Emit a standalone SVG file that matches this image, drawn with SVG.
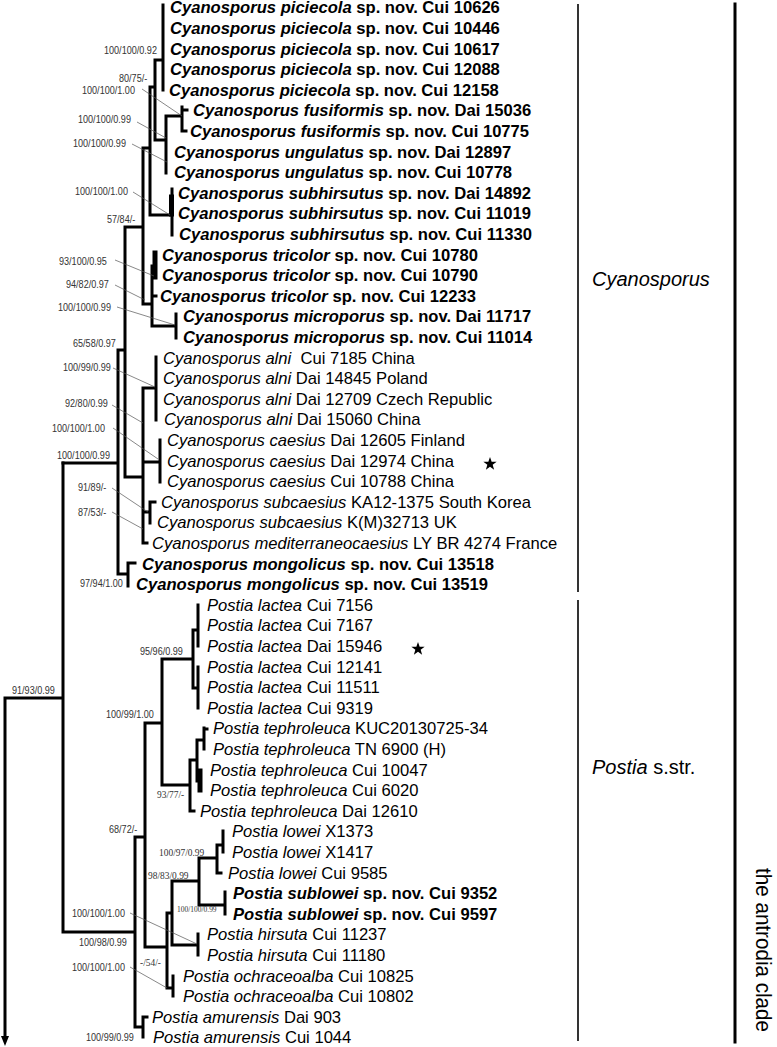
<svg xmlns="http://www.w3.org/2000/svg" xmlns:xlink="http://www.w3.org/1999/xlink" width="777" height="1047" viewBox="0 0 777 1047">
<style>
.br{fill:none;stroke:#000;stroke-width:3;stroke-linecap:square}
.ld{fill:none;stroke:#555;stroke-width:0.7}
.br2{fill:none;stroke:#000;stroke-width:1.6}
.t{font-family:"Liberation Sans",Arial,sans-serif;font-size:16.6px;fill:#000}
.b{font-weight:bold}
.i{font-style:italic}
.s{font-family:"Liberation Sans",Arial,sans-serif;font-size:10.2px;fill:#333}
.sr{font-family:"Liberation Serif","Times New Roman",serif;font-size:10.6px;fill:#333}
.g{font-family:"Liberation Sans",Arial,sans-serif;font-size:20px;fill:#000}
</style>
<defs>
<polygon id="star" points="0,-7 1.65,-2.27 6.66,-2.16 2.66,0.87 4.11,5.66 0,2.8 -4.11,5.66 -2.66,0.87 -6.66,-2.16 -1.65,-2.27" fill="#000"/>
</defs>
<rect width="777" height="1047" fill="#fff"/>
<g id="connectors">
<path class="br" d="M163 5V90M155 60H163M155 60V140M150 87H155M155 140H166M166 116V173M166 116H182M182 107V131M182 110H187M182 131H186M150 87V215M144 148H150M150 215H172M172 189V235M143 148V304M125 227H143M152 266V326M152 266H155M152 296H156M143 304H152M152 326H176M176 314V338M125 227V477M118 350H125M118 350V574M63 463H118M156 357V420M143 388H156M160 440V482M143 462H160M143 388V543M143 543H147M125 477H143M150 502V523M143 512H150M150 502H155M128 563V586M118 574H128M128 563H135"/>
<path class="br" style="stroke-width:5" d="M171.5 197V214M155 253V277M200 771V790"/>
<path class="br" d="M63 463V932M5 698H63M5 698V1036M63 932H135M135 837V1027M135 837H145M145 723V947M145 723H162M162 659V785M162 659H193M193 630V688M193 630H198M198 605V646M193 688H198M198 667V708M162 785H190M190 760V811M190 811H194M190 760H197M197 740V781M197 740H204M204 728V749M204 729H207M197 781H200M199 858V905M199 858H217M217 845V873M217 873H221M217 845H223M223 831V852M199 905H225M225 892V914M172 881H199M172 881V945M172 945H198M198 934V955M167 913H172M167 913V988M167 988H173M173 976V996M145 947H167M135 1027H143M143 1017V1037M143 1017H147"/>
<polygon points="1,1036 9,1036 5,1046" fill="#000"/>
<path class="ld" d="M142 89L182 116M137 122L166 138M132 144L167 162M133 192L170 215M115 260L154 276M115 285L145 300M117 307L175 325M113 368L155 387M112 405L143 423M113 428L158 459M112 488L148 512M112 512L143 529M130 913L197 944M130 967L167 988"/>
</g>
<g id="supports">
<text class="s" transform="translate(104,53.6) scale(0.89,1)">100/100/0.92</text>
<text class="s" transform="translate(119,81.6) scale(0.89,1)">80/75/-</text>
<text class="s" transform="translate(82,93.6) scale(0.89,1)">100/100/1.00</text>
<text class="s" transform="translate(78,122.6) scale(0.89,1)">100/100/0.99</text>
<text class="s" transform="translate(73,146.6) scale(0.89,1)">100/100/0.99</text>
<text class="s" transform="translate(75,194.6) scale(0.89,1)">100/100/1.00</text>
<text class="s" transform="translate(107,222.6) scale(0.89,1)">57/84/-</text>
<text class="s" transform="translate(59,264.6) scale(0.89,1)">93/100/0.95</text>
<text class="s" transform="translate(66,287.6) scale(0.89,1)">94/82/0.97</text>
<text class="s" transform="translate(58,310.6) scale(0.89,1)">100/100/0.99</text>
<text class="s" transform="translate(73,346.6) scale(0.89,1)">65/58/0.97</text>
<text class="s" transform="translate(63,370.6) scale(0.89,1)">100/99/0.99</text>
<text class="s" transform="translate(65,406.6) scale(0.89,1)">92/80/0.99</text>
<text class="s" transform="translate(52,431.6) scale(0.89,1)">100/100/1.00</text>
<text class="s" transform="translate(57,458.6) scale(0.89,1)">100/100/0.99</text>
<text class="s" transform="translate(78,490.6) scale(0.89,1)">91/89/-</text>
<text class="s" transform="translate(78,515.6) scale(0.89,1)">87/53/-</text>
<text class="s" transform="translate(80,586.6) scale(0.89,1)">97/94/1.00</text>
<text class="s" transform="translate(140,654.6) scale(0.89,1)">95/96/0.99</text>
<text class="s" transform="translate(12,693.6) scale(0.89,1)">91/93/0.99</text>
<text class="s" transform="translate(106,717.6) scale(0.89,1)">100/99/1.00</text>
<text class="sr" transform="translate(157,797.6) scale(0.89,1)">93/77/-</text>
<text class="s" transform="translate(109,832.6) scale(0.89,1)">68/72/-</text>
<text class="sr" transform="translate(159,855.6) scale(0.89,1)">100/97/0.99</text>
<text class="sr" transform="translate(148,878.6) scale(0.89,1)">98/83/0.99</text>
<text class="sr" transform="translate(177,912.2) scale(0.89,1)" style="font-size:8.4px">100/100/0.99</text>
<text class="s" transform="translate(72,916.6) scale(0.89,1)">100/100/1.00</text>
<text class="s" transform="translate(79,945.6) scale(0.89,1)">100/98/0.99</text>
<text class="sr" transform="translate(140,965.6) scale(0.89,1)">-/54/-</text>
<text class="s" transform="translate(72,970.6) scale(0.89,1)">100/100/1.00</text>
<text class="s" transform="translate(86,1040.6) scale(0.89,1)">100/99/0.99</text>
</g>
<g id="taxa">
<g id="n0"><text class="t b" x="170" y="13.3"><tspan class="i">Cyanosporus piciecola</tspan> sp. nov. Cui 10626</text></g>
<g id="n1"><text class="t b" x="170" y="33.9"><tspan class="i">Cyanosporus piciecola</tspan> sp. nov. Cui 10446</text></g>
<g id="n2"><text class="t b" x="170" y="54.5"><tspan class="i">Cyanosporus piciecola</tspan> sp. nov. Cui 10617</text></g>
<g id="n3"><text class="t b" x="170" y="75.1"><tspan class="i">Cyanosporus piciecola</tspan> sp. nov. Cui 12088</text></g>
<g id="n4"><text class="t b" x="169" y="95.7"><tspan class="i">Cyanosporus piciecola</tspan> sp. nov. Cui 12158</text></g>
<g id="n5"><text class="t b" x="193" y="116.3"><tspan class="i">Cyanosporus fusiformis</tspan> sp. nov. Dai 15036</text></g>
<g id="n6"><text class="t b" x="190" y="136.9"><tspan class="i">Cyanosporus fusiformis</tspan> sp. nov. Cui 10775</text></g>
<g id="n7"><text class="t b" x="174" y="157.5"><tspan class="i">Cyanosporus ungulatus</tspan> sp. nov. Dai 12897</text></g>
<g id="n8"><text class="t b" x="174" y="178.1"><tspan class="i">Cyanosporus ungulatus</tspan> sp. nov. Cui 10778</text></g>
<g id="n9"><text class="t b" x="178" y="198.7"><tspan class="i">Cyanosporus subhirsutus</tspan> sp. nov. Dai 14892</text></g>
<g id="n10"><text class="t b" x="178" y="219.3"><tspan class="i">Cyanosporus subhirsutus</tspan> sp. nov. Cui 11019</text></g>
<g id="n11"><text class="t b" x="179" y="239.9"><tspan class="i">Cyanosporus subhirsutus</tspan> sp. nov. Cui 11330</text></g>
<g id="n12"><text class="t b" x="162" y="260.5"><tspan class="i">Cyanosporus tricolor</tspan> sp. nov. Cui 10780</text></g>
<g id="n13"><text class="t b" x="162" y="281.1"><tspan class="i">Cyanosporus tricolor</tspan> sp. nov. Cui 10790</text></g>
<g id="n14"><text class="t b" x="160" y="301.7"><tspan class="i">Cyanosporus tricolor</tspan> sp. nov. Cui 12233</text></g>
<g id="n15"><text class="t b" x="183" y="322.3"><tspan class="i">Cyanosporus microporus</tspan> sp. nov. Dai 11717</text></g>
<g id="n16"><text class="t b" x="183" y="342.9"><tspan class="i">Cyanosporus microporus</tspan> sp. nov. Cui 11014</text></g>
<g id="n17"><text class="t" x="163" y="363.5" xml:space="preserve"><tspan class="i">Cyanosporus alni</tspan>  Cui 7185 China</text></g>
<g id="n18"><text class="t" x="163" y="384.1"><tspan class="i">Cyanosporus alni</tspan> Dai 14845 Poland</text></g>
<g id="n19"><text class="t" x="163" y="404.7"><tspan class="i">Cyanosporus alni</tspan> Dai 12709 Czech Republic</text></g>
<g id="n20"><text class="t" x="164" y="425.3"><tspan class="i">Cyanosporus alni</tspan> Dai 15060 China</text></g>
<g id="n21"><text class="t" x="167" y="445.9"><tspan class="i">Cyanosporus caesius</tspan> Dai 12605 Finland</text></g>
<g id="n22"><text class="t" x="167" y="466.5"><tspan class="i">Cyanosporus caesius</tspan> Dai 12974 China</text><use xlink:href="#star" x="490" y="464"/></g>
<g id="n23"><text class="t" x="167" y="487.1"><tspan class="i">Cyanosporus caesius</tspan> Cui 10788 China</text></g>
<g id="n24"><text class="t" x="161" y="507.7"><tspan class="i">Cyanosporus subcaesius</tspan> KA12-1375 South Korea</text></g>
<g id="n25"><text class="t" x="157" y="528.3"><tspan class="i">Cyanosporus subcaesius</tspan> K(M)32713 UK</text></g>
<g id="n26"><text class="t" x="152" y="548.9"><tspan class="i">Cyanosporus mediterraneocaesius</tspan> LY BR 4274 France</text></g>
<g id="n27"><text class="t b" x="142" y="569.5"><tspan class="i">Cyanosporus mongolicus</tspan> sp. nov. Cui 13518</text></g>
<g id="n28"><text class="t b" x="136" y="590.1"><tspan class="i">Cyanosporus mongolicus</tspan> sp. nov. Cui 13519</text></g>
<g id="n29"><text class="t" x="207" y="610.7"><tspan class="i">Postia lactea</tspan> Cui 7156</text></g>
<g id="n30"><text class="t" x="207" y="631.3"><tspan class="i">Postia lactea</tspan> Cui 7167</text></g>
<g id="n31"><text class="t" x="207" y="651.9"><tspan class="i">Postia lactea</tspan> Dai 15946</text><use xlink:href="#star" x="418" y="649"/></g>
<g id="n32"><text class="t" x="207" y="672.5"><tspan class="i">Postia lactea</tspan> Cui 12141</text></g>
<g id="n33"><text class="t" x="207" y="693.1"><tspan class="i">Postia lactea</tspan> Cui 11511</text></g>
<g id="n34"><text class="t" x="207" y="713.7"><tspan class="i">Postia lactea</tspan> Cui 9319</text></g>
<g id="n35"><text class="t" x="213" y="734.3"><tspan class="i">Postia tephroleuca</tspan> KUC20130725-34</text></g>
<g id="n36"><text class="t" x="213" y="754.9"><tspan class="i">Postia tephroleuca</tspan> TN 6900 (H)</text></g>
<g id="n37"><text class="t" x="210" y="775.5"><tspan class="i">Postia tephroleuca</tspan> Cui 10047</text></g>
<g id="n38"><text class="t" x="210" y="796.1"><tspan class="i">Postia tephroleuca</tspan> Cui 6020</text></g>
<g id="n39"><text class="t" x="200" y="816.7"><tspan class="i">Postia tephroleuca</tspan> Dai 12610</text></g>
<g id="n40"><text class="t" x="232" y="837.3"><tspan class="i">Postia lowei</tspan> X1373</text></g>
<g id="n41"><text class="t" x="232" y="857.9"><tspan class="i">Postia lowei</tspan> X1417</text></g>
<g id="n42"><text class="t" x="228" y="878.5"><tspan class="i">Postia lowei</tspan> Cui 9585</text></g>
<g id="n43"><text class="t b" x="233" y="899.1"><tspan class="i">Postia sublowei</tspan> sp. nov. Cui 9352</text></g>
<g id="n44"><text class="t b" x="233" y="919.7"><tspan class="i">Postia sublowei</tspan> sp. nov. Cui 9597</text></g>
<g id="n45"><text class="t" x="207" y="940.3"><tspan class="i">Postia hirsuta</tspan> Cui 11237</text></g>
<g id="n46"><text class="t" x="207" y="960.9"><tspan class="i">Postia hirsuta</tspan> Cui 11180</text></g>
<g id="n47"><text class="t" x="183" y="981.5"><tspan class="i">Postia ochraceoalba</tspan> Cui 10825</text></g>
<g id="n48"><text class="t" x="183" y="1002.1"><tspan class="i">Postia ochraceoalba</tspan> Cui 10802</text></g>
<g id="n49"><text class="t" x="152" y="1022.7"><tspan class="i">Postia amurensis</tspan> Dai 903</text></g>
<g id="n50"><text class="t" x="153" y="1043.3"><tspan class="i">Postia amurensis</tspan> Cui 1044</text></g>
</g>
<g id="clades">
<g id="cyanosporus"><path class="br2" d="M578 4V592"/><text class="g i" x="592" y="286">Cyanosporus</text></g>
<g id="postia"><path class="br2" d="M578 600V1041"/><text class="g" x="592" y="774"><tspan class="i">Postia</tspan> s.str.</text></g>
<g id="antrodia"><path class="br" d="M735 4V1042"/><text class="g" transform="translate(755.5,868) rotate(90)" style="font-size:22.5px" textLength="164" lengthAdjust="spacingAndGlyphs">the antrodia clade</text></g>
</g>
</svg>
